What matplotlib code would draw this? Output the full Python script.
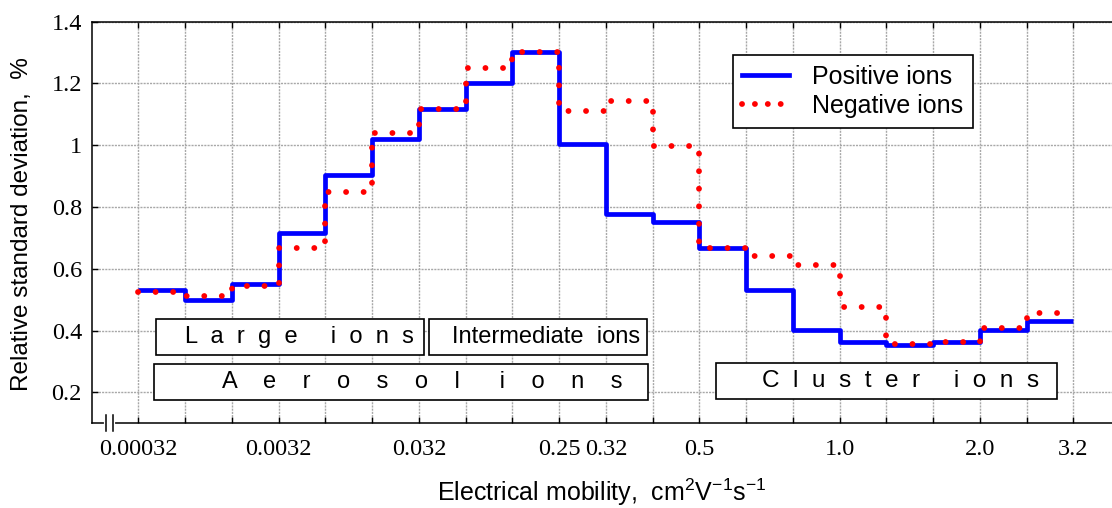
import numpy as np
from matplotlib import pyplot as plt
from matplotlib.lines import Line2D
from matplotlib.patches import Rectangle

plt.rcParams['font.family'] = ['Liberation Sans', 'DejaVu Sans']
plt.rcParams['mathtext.fontset'] = 'custom'
plt.rcParams['mathtext.rm'] = 'Liberation Sans'
plt.rcParams['mathtext.it'] = 'Liberation Sans'

# Mobility bins (bin edges are evenly spaced on the chart)
n_bins = 20
edges = np.arange(n_bins + 1)

# Relative standard deviation per mobility bin, %
positive = [0.533, 0.498, 0.552, 0.716, 0.905, 1.020, 1.118, 1.201, 1.301, 1.004,
            0.779, 0.752, 0.668, 0.531, 0.401, 0.363, 0.352, 0.363, 0.402, 0.430]
negative = [0.524, 0.511, 0.544, 0.668, 0.849, 1.039, 1.118, 1.251, 1.303, 1.112,
            1.144, 0.998, 0.668, 0.641, 0.612, 0.476, 0.356, 0.362, 0.408, 0.456]

# Labelled mobility ticks
tick_pos = [0, 3, 6, 9, 10, 12, 15, 18, 20]
tick_lab = ['0.00032', '0.0032', '0.032', '0.25', '0.32', '0.5', '1.0', '2.0', '3.2']

# Ion class boxes: (text, x0, x1, y0, y1, text_x, fontsize)
classes = [
    ('L  a  r  g  e     i  o  n  s', 0.38, 6.10, 0.320, 0.438, 0.99, 17),
    ('Intermediate  ions', 6.22, 10.87, 0.320, 0.438, 6.70, 17),
    ('A    e    r    o    s    o    l      i    o    n    s', 0.336, 10.91, 0.175, 0.293, 1.78, 17),
    ('C  l  u  s  t  e  r     i  o  n  s', 12.36, 19.64, 0.178, 0.296, 13.33, 17.6),
]

fig = plt.figure(figsize=(11.12, 5.08), dpi=100)
W, H = 1112, 508
ax_l, ax_r, ax_t, ax_b = 91.7, 1120.2, 21.7, 423.3
ax = fig.add_axes([ax_l / W, 1 - ax_b / H, (ax_r - ax_l) / W, (ax_b - ax_t) / H])

ax.step(edges, positive + [positive[-1]], where='post', color='#0000ff', lw=3.4,
        solid_capstyle='butt', zorder=3)
ax.step(edges, negative + [negative[-1]], where='post', color='#ff0000', lw=4.2,
        ls=(0, (0.01, 3.0)), dash_capstyle='round', zorder=4)

ax.set_xlim(-1, 21)
ax.set_ylim(0.1, 1.4)
ax.set_xticks(edges)
ax.set_xticklabels([tick_lab[tick_pos.index(i)] if i in tick_pos else '' for i in edges])
ax.set_yticks([0.2, 0.4, 0.6, 0.8, 1.0, 1.2, 1.4])
ax.set_yticklabels(['0.2', '0.4', '0.6', '0.8', '1', '1.2', '1.4'])
ax.tick_params(direction='in', length=4, width=1, top=True, labelsize=17.5)
ax.tick_params(axis='x', pad=11)
ax.tick_params(axis='y', pad=7)
for lab in ax.get_xticklabels() + ax.get_yticklabels():
    lab.set_fontfamily('Liberation Serif')
ax.grid(True, color='#a8a8a8', ls=(0, (1.5, 0.8)), lw=1.0)
ax.set_axisbelow(True)
ax.spines['right'].set_visible(False)
for s in ['left', 'bottom', 'top']:
    ax.spines[s].set_linewidth(1.1)

# axis break on the bottom spine
tr = ax.get_xaxis_transform()
ax.plot([-0.69, -0.535], [0, 0], color='white', lw=3, transform=tr, clip_on=False, zorder=5)
for xb in (-0.69, -0.535):
    ax.plot([xb, xb], [-0.02, 0.02], color='black', lw=1.1, transform=tr,
            clip_on=False, zorder=6)

for text, x0, x1, y0, y1, tx, fs in classes:
    ax.add_patch(Rectangle((x0, y0), x1 - x0, y1 - y0, facecolor='white',
                           edgecolor='black', lw=1.2, zorder=5))
    ax.text(tx, (y0 + y1) / 2, text, fontsize=fs, ha='left', va='center', zorder=6)

handles = [Line2D([], [], color='#0000ff', lw=3.4),
           Line2D([], [], color='#ff0000', lw=4.2, ls=(0, (0.01, 2.2)), dash_capstyle='round')]
leg = ax.legend(handles, ['Positive ions', 'Negative ions'], loc='upper left',
                bbox_to_anchor=(0.6235, 0.917), borderaxespad=0, fontsize=18,
                fancybox=False, framealpha=1, edgecolor='black', handlelength=1.85,
                handletextpad=0.95, labelspacing=0.22, borderpad=0.38)
leg.get_frame().set_linewidth(1.2)
leg.set_zorder(7)

fig.text(602 / W, 1 - 492 / H, 'Electrical mobility,  cm$^{2}$V$^{-1}$s$^{-1}$',
         fontsize=18, ha='center', va='center')
fig.text(22.5 / W, 1 - 224.5 / H, 'Relative standard deviation,  %', fontsize=17.5,
         ha='center', va='center', rotation=90)

fig.savefig('out.png', dpi=100)
